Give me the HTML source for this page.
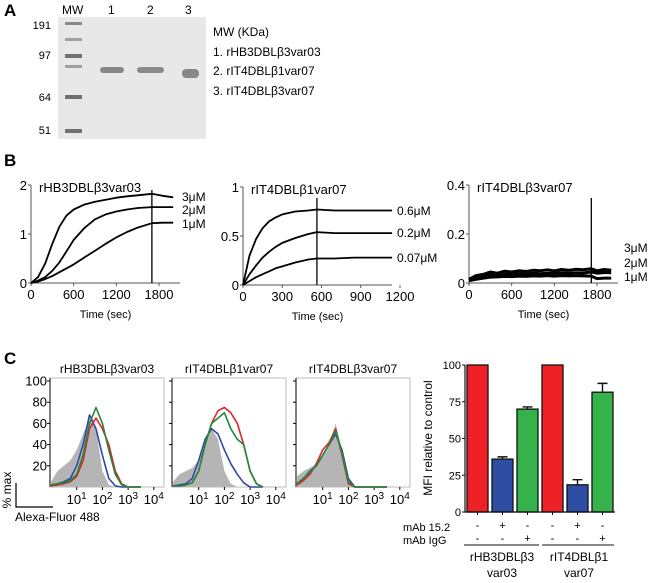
<!DOCTYPE html>
<html><head><meta charset="utf-8">
<style>
html,body{margin:0;padding:0;background:#fff;}
svg{display:block;font-family:"Liberation Sans",Arial,sans-serif;}
</style></head>
<body>
<svg id="fig" width="650" height="583" viewBox="0 0 650 583" xmlns="http://www.w3.org/2000/svg">
<!-- Panel A -->
<g>
<text x="4" y="16" font-size="17" font-weight="bold">A</text>
<rect x="58" y="17" width="148" height="122" fill="#e8e8e8"/>
<text x="62" y="14" font-size="12">MW</text>
<text x="108" y="14" font-size="12">1</text>
<text x="147" y="14" font-size="12">2</text>
<text x="185" y="14" font-size="12">3</text>
<g font-size="11" text-anchor="end">
<text x="51" y="29">191</text>
<text x="51" y="59">97</text>
<text x="51" y="101">64</text>
<text x="51" y="134">51</text>
</g>
<g fill="#707070">
<rect x="65" y="22" width="17" height="3" opacity="0.8"/>
<rect x="65" y="38" width="17" height="3" opacity="0.6"/>
<rect x="65" y="54" width="17" height="4"/>
<rect x="65" y="65" width="17" height="3" opacity="0.6"/>
<rect x="65" y="95" width="17" height="4"/>
<rect x="65" y="129" width="17" height="4"/>
</g>
<rect x="100" y="67" width="24" height="6" rx="3" fill="#888"/>
<rect x="137" y="67" width="27" height="6" rx="3" fill="#8a8a8a"/>
<rect x="182" y="69" width="17" height="9" rx="4" fill="#888"/>
<g font-size="12">
<text x="213" y="36">MW (KDa)</text>
<text x="213" y="56">1. rHB3DBLβ3var03</text>
<text x="213" y="75">2. rIT4DBLβ1var07</text>
<text x="213" y="95">3. rIT4DBLβ3var07</text>
</g>
</g>
<text x="4" y="166" font-size="17" font-weight="bold">B</text>
<text x="4" y="364" font-size="17" font-weight="bold">C</text>
<g id="pb"></g>
<g id="pc"></g>
<g id="pd"></g>
</svg>
<script>
// ---- Panel B data ----
const b1Times = [0,100,200,300,400,500,600,750,900,1050,1200,1350,1500,1700,1850,2000];
const b1_3uM = [0,0.12,0.4,0.8,1.15,1.38,1.5,1.6,1.66,1.7,1.74,1.77,1.79,1.82,1.78,1.75];
const b1_2uM = [0,0.05,0.12,0.25,0.42,0.65,0.88,1.12,1.3,1.4,1.46,1.5,1.53,1.55,1.55,1.55];
const b1_1uM = [0,0.03,0.08,0.14,0.22,0.3,0.38,0.52,0.66,0.8,0.93,1.04,1.13,1.22,1.23,1.23];
const b1Labels = ['3μM','2μM','1μM'];
const b2Times = [0,50,100,150,200,250,300,400,500,565,700,850,1000,1140];
const b2_06 = [0,0.3,0.47,0.58,0.65,0.69,0.72,0.75,0.76,0.77,0.76,0.76,0.76,0.76];
const b2_02 = [0,0.11,0.2,0.28,0.34,0.39,0.43,0.48,0.52,0.54,0.53,0.53,0.53,0.53];
const b2_007 = [0,0.04,0.08,0.11,0.14,0.17,0.19,0.23,0.26,0.27,0.27,0.28,0.28,0.28];
const b2Labels = ['0.6μM','0.2μM','0.07μM'];
const b3Times = [0,100,200,300,400,500,600,700,800,900,1000,1100,1200,1300,1400,1500,1600,1720,1800,1900,2000];
const b3_3uM = [0.015,0.03,0.035,0.045,0.04,0.048,0.045,0.05,0.047,0.052,0.05,0.054,0.05,0.055,0.052,0.056,0.054,0.058,0.05,0.055,0.052];
const b3_2uM = [0.01,0.02,0.028,0.034,0.032,0.036,0.035,0.038,0.036,0.04,0.038,0.04,0.039,0.042,0.04,0.042,0.041,0.045,0.04,0.043,0.042];
const b3_1uM = [0.01,0.015,0.02,0.024,0.025,0.027,0.026,0.028,0.027,0.029,0.028,0.03,0.028,0.03,0.029,0.03,0.029,0.028,0.018,0.02,0.02];
const b3Labels = ['3μM','2μM','1μM'];

// ---- Panel C histograms (x = log10 fluorescence) ----
const hDecades = [0,0.25,0.5,0.75,1,1.25,1.5,1.75,2,2.25,2.5,2.75,3,3.25,3.5];
const h1Gray  = [5,15,20,25,35,50,65,55,15,2,0,0,0,0,0];
const h1Blue  = [2,3,5,8,20,40,68,55,30,8,1,0,0,0,0];
const h1Red   = [1,2,3,5,10,25,55,65,55,40,15,3,0,0,0];
const h1Green = [2,3,4,6,12,30,60,75,60,35,12,2,0,0,0];
const h2Gray  = [5,12,15,18,25,40,55,45,15,3,0,0,0,0,0];
const h2Blue  = [1,2,3,8,25,45,55,50,35,22,12,4,0,0,0];
const h2Red   = [1,1,2,4,15,40,60,72,75,70,60,40,15,3,0];
const h2Green = [1,1,2,4,15,40,60,65,70,55,45,40,15,3,0];
const h3Gray  = [10,15,18,22,28,38,60,35,5,0,0,0,0,0,0];
const h3Blue  = [3,8,15,20,30,40,50,35,8,0,0,0,0,0,0];
const h3Red   = [2,6,12,22,35,42,55,30,3,0,0,0,0,0,0];
const h3Green = [3,8,14,20,30,40,53,32,5,0,0,0,0,0,0];
const hTitles = ['rHB3DBLβ3var03','rIT4DBLβ1var07','rIT4DBLβ3var07'];
const hYTicks = [20,40,60,80,100];

// ---- Bar chart ----
const barCats = ['hb3-control','hb3-mab152','hb3-igg','it4-control','it4-mab152','it4-igg'];
const barValues = [100,36,70,100,18.5,81.5];
const barErrors = [0,1.5,1.5,0,3.5,6];
const barYTicks = [0,25,50,75,100];
const mab152Signs = ['-','+','-','-','+','-'];
const igGSigns = ['-','-','+','-','-','+'];

const NS='http://www.w3.org/2000/svg';
function mk(parent, tag, attrs){const e=document.createElementNS(NS,tag);for(const k in attrs)e.setAttribute(k,attrs[k]);parent.appendChild(e);return e;}
function txt(parent,x,y,s,size,anchor){const t=mk(parent,'text',{x:x,y:y,'font-size':size,'text-anchor':anchor||'start'});t.textContent=s;return t;}

// Panel B
const pb=document.getElementById('pb');
function kinetic(cfg){
  const g=mk(pb,'g',{});
  
  
  const sx=t=>cfg.x0+t*cfg.kx, sy=v=>cfg.y0-(v/cfg.ymax)*(cfg.y0-cfg.ytop);
  const ax=mk(g,'path',{d:`M${cfg.x0},${cfg.ytop} V${cfg.y0} H${cfg.xend}`,stroke:'#555',fill:'none','stroke-width':1});
  
  
  cfg.yticks.forEach((v,i)=>{const y=sy(v);mk(g,'line',{x1:cfg.x0-3,x2:cfg.x0,y1:y,y2:y,stroke:'#555'});
    const t=txt(g,cfg.x0-4,y+5,cfg.ylabels[i],13,'end');
    
    });
  cfg.xticks.forEach(v=>{const x=sx(v);mk(g,'line',{x1:x,x2:x,y1:cfg.y0,y2:cfg.y0+3,stroke:'#555'});
    const t=txt(g,x,cfg.y0+16,String(v),13,'middle');
    
    });
  const xt=txt(g,(cfg.x0+cfg.xend)/2,cfg.y0+35,'Time (sec)',11,'middle');
  
  
  const tt=txt(g,cfg.x0+8,cfg.ytop+7,cfg.title,13,'start');
  
  
  const vl=mk(g,'line',{x1:sx(cfg.vline),x2:sx(cfg.vline),y1:cfg.vtop,y2:cfg.y0,stroke:'#000','stroke-width':1.3});
  
  
  cfg.series.forEach((s,i)=>{
    const d=s.map((v,j)=>(j?'L':'M')+sx(cfg.times[j]).toFixed(1)+','+sy(v).toFixed(1)).join(' ');
    const p=mk(g,'path',{d:d,fill:'none',stroke:'#000','stroke-width':cfg.sw||1.8,'stroke-linejoin':'round'});
    
    
    const l=txt(g,cfg.lx,cfg.ly[i],cfg.labels[i],12,'start');
    
    
  });
}
kinetic({name:'sensorgram-rhb3',x0:31,y0:283,ytop:185,ymax:2,kx:128/1800,xend:180,yticks:[0,1,2],ylabels:['0','1','2'],xticks:[0,600,1200,1800],title:'rHB3DBLβ3var03',vline:1700,vtop:190,times:b1Times,series:[b1_3uM,b1_2uM,b1_1uM],labels:b1Labels,lx:182,ly:[201,214,228]});
kinetic({name:'sensorgram-rit4-b1',x0:243,y0:285,ytop:187,ymax:1,kx:157/1200,xend:392,yticks:[0,0.5,1],ylabels:['0','0.5','1'],xticks:[0,300,600,900,1200],title:'rIT4DBLβ1var07',vline:565,vtop:198,times:b2Times,series:[b2_06,b2_02,b2_007],labels:b2Labels,lx:397,ly:[215,237,262]});
kinetic({name:'sensorgram-rit4-b3',x0:469,y0:283,ytop:185,ymax:0.4,kx:128/1800,xend:618,yticks:[0,0.2,0.4],ylabels:['0','0.2','0.4'],xticks:[0,600,1200,1800],title:'rIT4DBLβ3var07',vline:1720,vtop:198,times:b3Times,series:[b3_3uM,b3_2uM,b3_1uM],labels:b3Labels,lx:624,ly:[252,267,281],sw:3});

// Panel C histograms
const pc=document.getElementById('pc');
const hData=[[h1Gray,h1Blue,h1Red,h1Green],[h2Gray,h2Blue,h2Red,h2Green],[h3Gray,h3Blue,h3Red,h3Green]];
const hLefts=[50,172,296];
const hW=114, hTop=378, hBot=487;
hData.forEach((set,pi)=>{
  const L=hLefts[pi];
  const g=mk(pc,'g',{});
  
  
  const sx=d=>L+1+(d*25.7), sy=v=>hBot-v/100*(hBot-hTop-3);
  mk(g,'rect',{x:L,y:hTop,width:hW,height:hBot-hTop,fill:'#fff',stroke:'#bbb'});
  mk(g,'line',{x1:L,x2:L,y1:hTop,y2:hBot,stroke:'#000'});
  const tt=txt(g,L+hW/2,hTop-5,hTitles[pi],12,'middle');
  
  
  hYTicks.forEach(v=>{const y=sy(v);mk(g,'line',{x1:L-3,x2:L,y1:y,y2:y,stroke:'#000'});
    if(pi===0){const t=txt(g,L-3,y+4.5,String(v),13,'end');
      
      }});
  [1,2,3,4].forEach(k=>{const x=sx(k);mk(g,'line',{x1:x,x2:x,y1:hBot,y2:hBot+3,stroke:'#000'});
    const t=mk(g,'text',{x:x,y:hBot+17,'font-size':13,'text-anchor':'middle'});
    t.innerHTML='10<tspan dy="-5" font-size="10">'+k+'</tspan>';
    
    });
  const pts=s=>s.map((v,j)=>sx(hDecades[j]).toFixed(1)+','+sy(v).toFixed(1));
  const gp=mk(g,'path',{d:'M'+sx(0)+','+hBot+' L'+pts(set[0]).join(' L')+' L'+sx(3.5)+','+hBot+'Z',fill:'#b5b5b5'});
  
  
  const cols=['#2f48a6','#e8212a','#1e8a3a'], nm=['blue','red','green'];
  [1,2,3].forEach((si,ci)=>{
    const p=mk(g,'path',{d:'M'+pts(set[si]).join(' L'),fill:'none',stroke:cols[ci],'stroke-width':1.6,'stroke-linejoin':'round'});
    
    
  });
});
const sb=mk(pc,'path',{d:'M16,483 V507 H53',fill:'none',stroke:'#000','stroke-width':1.2});


const pm=txt(pc,0,0,'% max',12,'middle');
pm.setAttribute('transform','translate(11,490) rotate(-90)');


const af=txt(pc,15,521,'Alexa-Fluor 488',12,'start');



// Bar chart
const pd=document.getElementById('pd');
const bx0=465, by0=512, byTop=365;
const bsy=v=>by0-v/100*(by0-byTop);
const barX=[467,492,517,542,567,592], barW=21;
const barCols=['#ee2226','#2e4ea3','#35b34a','#ee2226','#2e4ea3','#35b34a'];
barValues.forEach((v,i)=>{
  const x=barX[i];
  const r=mk(pd,'rect',{x:x,y:bsy(v),width:barW,height:by0-bsy(v),fill:barCols[i],stroke:'#111','stroke-width':1.3});
  
  
  if(barErrors[i]>0){const xc=x+barW/2, yt=bsy(v+barErrors[i]);
    const e=mk(pd,'path',{d:`M${xc},${bsy(v)} V${yt} M${xc-5},${yt} H${xc+5}`,stroke:'#111','stroke-width':1.4,fill:'none'});
    
    }
  const s1=txt(pd,x+barW/2,529,mab152Signs[i],11,'middle');
  
  
  const s2=txt(pd,x+barW/2,542,igGSigns[i],11,'middle');
  
  
});
mk(pd,'path',{d:`M${bx0},${byTop} V${by0} H615`,stroke:'#111',fill:'none','stroke-width':1.2});
barYTicks.forEach(v=>{const y=bsy(v);mk(pd,'line',{x1:bx0-3,x2:bx0,y1:y,y2:y,stroke:'#111'});
  const t=txt(pd,bx0-4,y+4,String(v),11,'end');
  
  });
barX.forEach(x=>mk(pd,'line',{x1:x+barW/2,x2:x+barW/2,y1:by0,y2:by0+3,stroke:'#111'}));
const yl=txt(pd,0,0,'MFI relative to control',12,'middle');
yl.setAttribute('transform','translate(432,438) rotate(-90)');


const m1=txt(pd,403,531,'mAb 15.2',11,'start');


const m2=txt(pd,403,544,'mAb IgG',11,'start');


mk(pd,'line',{x1:464,x2:539,y1:545,y2:545,stroke:'#111'});
mk(pd,'line',{x1:542,x2:614,y1:545,y2:545,stroke:'#111'});
[['rHB3DBLβ3','var03',502],['rIT4DBLβ1','var07',579]].forEach(a=>{
  const t1=txt(pd,a[2],561,a[0],12,'middle');
  
  
  const t2=txt(pd,a[2],577,a[1],12,'middle');
  
  
});
</script>
</body></html>
